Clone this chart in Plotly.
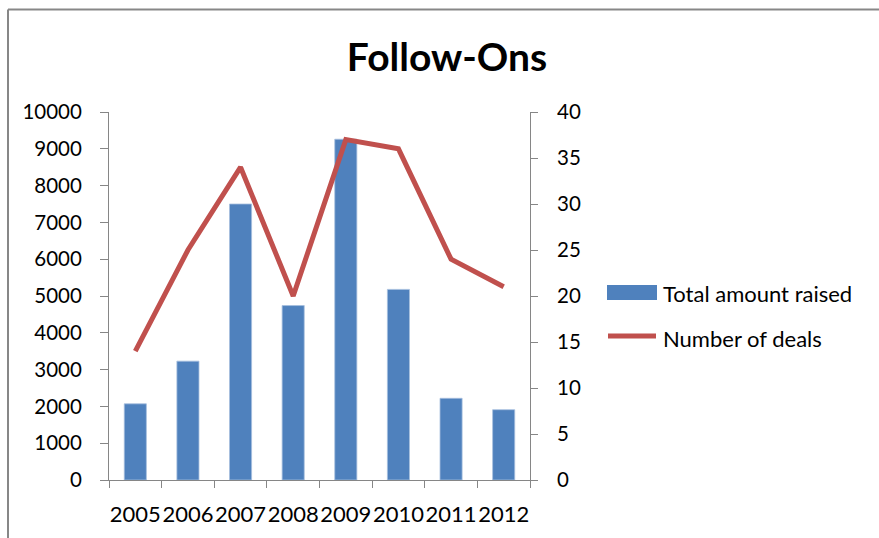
import plotly.graph_objects as go

# Data
years = ["2005", "2006", "2007", "2008", "2009", "2010", "2011", "2012"]
total_raised = [2070, 3230, 7500, 4740, 9260, 5180, 2220, 1910]
num_deals = [14, 25, 34, 20, 37, 36, 24, 21]
left_ticks = list(range(0, 10001, 1000))
left_labels = [str(v) for v in left_ticks]
right_ticks = list(range(0, 41, 5))

# Canvas and plot-area geometry (pixels)
W, H = 879, 538
L, R, T, B = 109, 349, 112, 58
PW, PH = W - L - R, H - T - B

BLUE = "#4F81BD"
RED = "#C0504D"
GREY = "#868686"
FONT = "Lato, 'Open Sans', sans-serif"


def px(x):
    return (x - L) / PW


def py(y):
    return 1 - (y - T) / PH


fig = go.Figure()

fig.add_trace(go.Bar(
    x=years, y=total_raised, name="Total amount raised",
    marker=dict(color=BLUE, line=dict(color="#A7BFDE", width=0.8)),
    yaxis="y", showlegend=False,
))

fig.add_trace(go.Scatter(
    x=years, y=num_deals, name="Number of deals", mode="lines",
    line=dict(color=RED, width=5),
    yaxis="y2", showlegend=False,
))

axis_common = dict(
    showgrid=False, zeroline=False, showline=True, automargin=False,
    linecolor=GREY, linewidth=1, ticks="outside", tickcolor=GREY,
    tickfont=dict(family=FONT, size=20.5, color="#000000"),
)

fig.update_layout(
    width=W, height=H,
    margin=dict(l=L, r=R, t=T, b=B),
    paper_bgcolor="white", plot_bgcolor="white",
    bargap=0.58,
    showlegend=False,
    title=dict(
        text="<b>Follow-Ons</b>", x=447 / W, xref="container", xanchor="center",
        y=1 - 57 / H, yref="container", yanchor="middle",
        font=dict(family=FONT, size=39, color="#000000"),
    ),
    xaxis=dict(
        axis_common, type="category", range=[-0.5, 7.5],
        tickson="boundaries", ticklen=7, tickangle=0, ticklabelstandoff=15,
        tickfont=dict(family=FONT, size=22, color="#000000"),
    ),
    yaxis=dict(
        axis_common, range=[0, 10000], tickvals=left_ticks, ticktext=left_labels,
        ticklen=8, ticklabelstandoff=14,
    ),
    yaxis2=dict(
        axis_common, range=[0, 40], tickvals=right_ticks, ticklen=7,
        ticklabelstandoff=15, overlaying="y", side="right",
    ),
)

# Chart frame (top and left edges)
frame = dict(type="line", xref="paper", yref="paper", line=dict(color="#878787", width=2))
fig.add_shape(frame, x0=px(8), x1=px(W), y0=py(9.5), y1=py(9.5))
fig.add_shape(frame, x0=px(8), x1=px(8), y0=py(9.5), y1=py(H))

# Legend
fig.add_shape(type="rect", xref="paper", yref="paper",
              x0=px(607), x1=px(657), y0=py(300), y1=py(285),
              fillcolor=BLUE, line=dict(width=0))
fig.add_shape(type="line", xref="paper", yref="paper",
              x0=px(608), x1=px(656), y0=py(336), y1=py(336),
              line=dict(color=RED, width=5))
for label, yc in [("Total amount raised", 293), ("Number of deals", 338)]:
    fig.add_annotation(
        text=label, xref="paper", yref="paper", x=px(661), y=py(yc),
        xanchor="left", yanchor="middle", showarrow=False,
        font=dict(family=FONT, size=22, color="#000000"),
    )

fig.write_html("out.html")
